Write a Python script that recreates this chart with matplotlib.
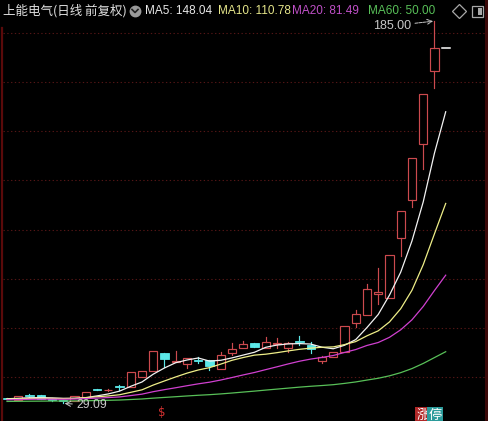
import matplotlib
matplotlib.use('Agg')
import matplotlib.pyplot as plt
import numpy as np
from matplotlib.patches import Rectangle
from matplotlib.lines import Line2D

plt.rcParams['font.family'] = ['Noto Sans CJK SC', 'DejaVu Sans']

# ---------------- data ----------------
title = "上能电气(日线 前复权)"
ma_labels = ["MA5: 148.04", "MA10: 110.78", "MA20: 81.49", "MA60: 50.00"]
high_label = "185.00"
low_label = "29.09"
limit_label = ["涨", "停"]

opens = [31.1, 30.5, 32.4, 32.5, 30.8, 30.3, 30.2, 31.6, 34.8, 34.4,
         36.0, 35.7, 40.0, 42.4, 49.8, 45.9, 45.1, 46.9, 46.7, 43.1,
         49.8, 51.6, 53.6, 51.6, 53.2, 51.6, 54.5, 52.9, 46.5, 47.9,
         50.1, 61.9, 65.3, 73.7, 72.1, 96.5, 112.0, 134.9, 164.6, 174.0]
highs = [31.4, 32.3, 33.0, 32.6, 31.2, 30.6, 32.3, 33.8, 35.0, 34.8,
         36.7, 42.0, 42.4, 50.5, 49.8, 50.6, 47.5, 47.9, 47.0, 50.2,
         53.9, 54.7, 53.8, 56.3, 55.6, 54.0, 56.6, 54.3, 48.3, 50.2,
         60.7, 67.2, 77.8, 84.3, 89.6, 107.6, 129.2, 155.3, 185.0, 174.0]
lows = [30.7, 30.3, 31.9, 30.9, 30.2, 29.09, 30.0, 31.4, 34.4, 34.2,
        34.6, 35.7, 40.0, 42.4, 44.1, 45.9, 43.4, 45.5, 42.9, 43.1,
        48.8, 51.6, 52.0, 51.6, 51.6, 50.2, 52.9, 49.5, 45.4, 47.9,
        50.1, 60.3, 65.3, 69.6, 72.1, 89.2, 109.2, 124.7, 157.7, 174.0]
closes = [30.9, 32.1, 32.2, 31.0, 30.5, 30.0, 32.1, 33.6, 34.6, 34.5,
          35.7, 42.0, 42.4, 50.5, 47.2, 46.4, 47.5, 46.5, 44.2, 48.8,
          51.3, 53.3, 52.2, 54.3, 53.4, 53.6, 54.0, 51.2, 47.9, 50.2,
          60.7, 65.6, 75.8, 74.5, 89.6, 107.6, 129.2, 155.3, 174.0, 174.0]
# closes before the visible window (for moving-average warm-up)
prior_closes = [29.2, 29.5, 29.1, 28.8, 29.0, 29.4, 29.7, 29.3, 29.0, 28.9,
                29.2, 29.6, 29.9, 29.5, 29.3, 29.1, 29.4, 29.8, 30.1, 29.7,
                29.5, 29.2, 29.0, 29.3, 29.6, 29.9, 30.2, 29.8, 29.5, 29.4,
                29.7, 30.0, 30.3, 30.1, 29.8, 29.6, 29.9, 30.2, 30.5, 30.3,
                30.0, 29.8, 30.1, 30.4, 30.7, 30.5, 30.2, 30.0, 30.3, 30.6,
                30.9, 30.7, 30.4, 30.6, 30.9, 31.2, 31.0, 30.8, 31.1]
ma_periods = [5, 10, 20, 60]
grid_levels = [40, 60, 80, 100, 120, 140, 160, 180]

# ---------------- style ----------------
BG = 'black'
RED = '#cc4a4e'
CYAN = '#5ce8e8'
MA_COLORS = ['#f2f2f2', '#eeee88', '#d040d0', '#58c058']
MA_TEXT_COLORS = ['#e8e8e8', '#e6e68a', '#c050c8', '#58c058']
GRID = '#541616'
W, H = 488, 421

fig = plt.figure(figsize=(W / 100, H / 100), dpi=100, facecolor=BG)
ax = fig.add_axes([0, 0, 1, 1])
ax.set_facecolor(BG)
ax.set_xlim(-0.622, 42.76)
ax.set_ylim(21.93, 193.58)
ax.axis('off')


def fx(x):
    return x / W


def fy(y):
    return 1 - y / H


# grid lines
for g in grid_levels:
    ax.axhline(g, xmin=fx(3), xmax=fx(484), color=GRID, lw=0.8,
               ls=(0, (1.2, 2.2)), zorder=1)

# border lines
fig.add_artist(Line2D([fx(1.5), fx(1.5)], [0, fy(28)], color='#5a0a0a', lw=1.6))
fig.add_artist(Line2D([fx(486), fx(486)], [0, 1], color='#3a0808', lw=2.2))

n = len(closes)
x = np.arange(n)
bw = 0.74

for i in range(n):
    o, h, l, c = opens[i], highs[i], lows[i], closes[i]
    if o == h == l == c:
        ax.plot([i - bw / 2, i + bw / 2], [c, c], color='white', lw=1.1, zorder=3)
        continue
    if c >= o:
        body = max(c - o, 0.35)
        ax.add_patch(Rectangle((i - bw / 2, o), bw, body, facecolor=BG,
                               edgecolor=RED, lw=0.85, zorder=2))
        if h > o + body:
            ax.plot([i, i], [o + body, h], color=RED, lw=0.85, zorder=2)
        if l < o:
            ax.plot([i, i], [l, o], color=RED, lw=0.85, zorder=2)
    else:
        body = max(o - c, 0.35)
        ax.plot([i, i], [l, h], color=CYAN, lw=0.85, zorder=2)
        ax.add_patch(Rectangle((i - bw / 2, c), bw, body, facecolor=CYAN,
                               edgecolor=CYAN, lw=0.6, zorder=2))

# moving averages
allc = np.array(prior_closes + closes)
off = len(prior_closes)
for p, col in zip(ma_periods, MA_COLORS):
    ma = np.array([allc[off + i - p + 1: off + i + 1].mean() for i in range(n)])
    ax.plot(x, ma, color=col, lw=0.9, zorder=4)

# high / low annotations
ih = int(np.argmax(highs))
ax.annotate(high_label, xy=(ih, highs[ih]), xytext=(-17, -3.5),
            textcoords='offset points', ha='right', va='center',
            fontsize=9, color='#c8c8c8', family=['Liberation Sans', 'DejaVu Sans'],
            arrowprops=dict(arrowstyle='->', color='#c8c8c8', lw=0.7, ls=(0, (3, 1)),
                            shrinkA=1, shrinkB=1), zorder=5)
il = int(np.argmin(lows))
ax.annotate(low_label, xy=(il, lows[il]), xytext=(9.5, -1.2),
            textcoords='offset points', ha='left', va='center',
            fontsize=8.8, color='#c8c8c8', family=['Liberation Sans', 'DejaVu Sans'],
            arrowprops=dict(arrowstyle='->', color='#c8c8c8', lw=0.7,
                            shrinkA=1, shrinkB=1), zorder=5)

# title row
fig.text(fx(3), fy(11), title, color='#e0e0e0', fontsize=9, va='center', ha='left')
ax.plot([fx(135)], [fy(11)], marker='o', markersize=7.5, color='#9a9a9a',
        transform=fig.transFigure, clip_on=False, zorder=6)
ax.plot([fx(132), fx(135), fx(138)], [fy(9.5), fy(12.5), fy(9.5)], color='#202020',
        lw=1.2, transform=fig.transFigure, clip_on=False, zorder=7)
ma_x = [145, 218, 292, 368]
for lab, col, xx in zip(ma_labels, MA_TEXT_COLORS, ma_x):
    fig.text(fx(xx), fy(11), lab, color=col, fontsize=8.5, va='center', ha='left',
             family=['Liberation Sans', 'DejaVu Sans'])

# icons
ax.plot([fx(459)], [fy(11)], marker='D', markersize=7.5, markerfacecolor='none',
        markeredgecolor='#a8a8a8', markeredgewidth=0.9, transform=fig.transFigure,
        clip_on=False, zorder=6)
fig.add_artist(Rectangle((fx(472), fy(17)), fx(11), 11 / H, facecolor='none',
                         edgecolor='#a8a8a8', lw=0.9))
fig.add_artist(Rectangle((fx(477.5), fy(15)), fx(4), 7 / H, facecolor='#a8a8a8',
                         edgecolor='none'))

# red marker at bottom
fig.text(fx(162), fy(413), "$", color='#d03030', fontsize=8.5, va='center', ha='center',
         family=['DejaVu Sans'])

# limit-up badge
fig.text(fx(423), fy(415), limit_label[0], color='white', fontsize=9.5, va='center',
         ha='center', bbox=dict(boxstyle='square,pad=0.08', facecolor='#b02828',
                                edgecolor='none'))
fig.text(fx(435), fy(415), limit_label[1], color='white', fontsize=9.5, va='center',
         ha='center', bbox=dict(boxstyle='square,pad=0.08', facecolor='#2a9a9a',
                                edgecolor='none'))

fig.savefig('out.png', dpi=100, facecolor=BG)
